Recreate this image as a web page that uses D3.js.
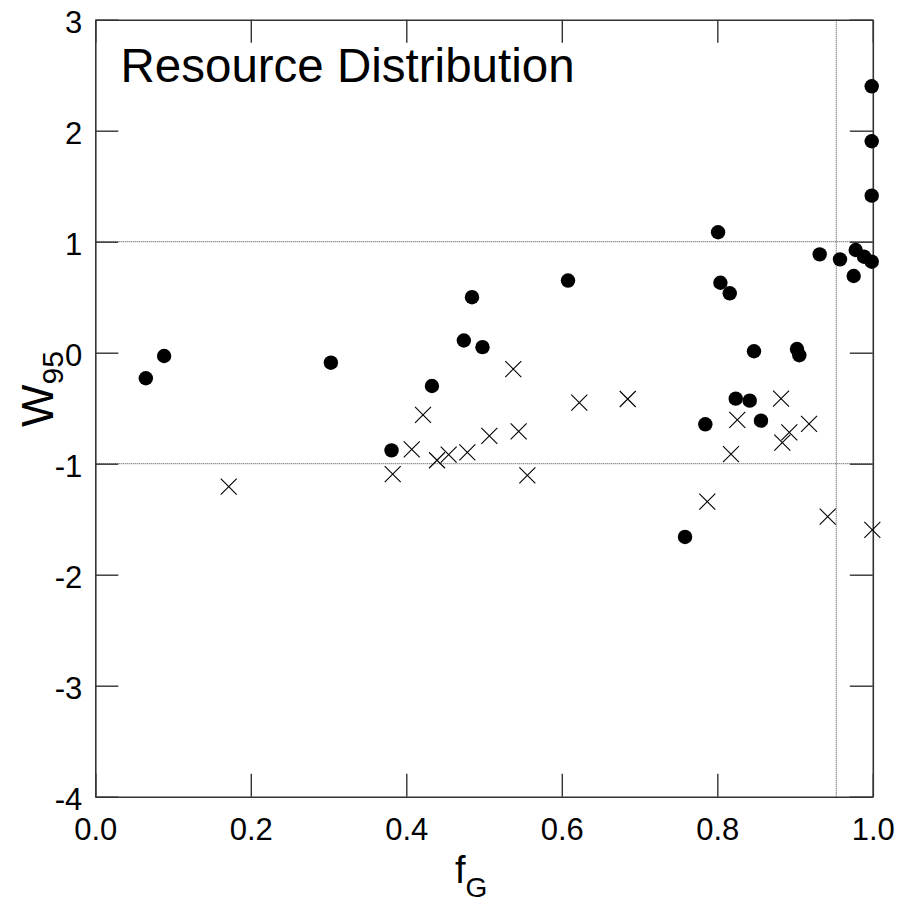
<!DOCTYPE html>
<html>
<head>
<meta charset="utf-8">
<script src="https://cdn.jsdelivr.net/npm/d3@7"></script>
<style>
  html, body { margin: 0; padding: 0; background: #fff; }
  svg { display: block; font-family: "Liberation Sans", Arial, Helvetica, sans-serif; }
</style>
</head>
<body>
<svg id="chart" width="912" height="902"></svg>
<script>
// ---- data ----
const circlesX = [0.065, 0.0885, 0.303, 0.381, 0.433, 0.474, 0.4845, 0.498, 0.608, 0.7585, 0.7846, 0.801, 0.804, 0.816, 0.8237, 0.8417, 0.8472, 0.8562, 0.9025, 0.9055, 0.9317, 0.9578, 0.9754, 0.978, 0.9887, 0.9986, 0.9986, 0.9986, 0.9986];
const circlesY = [-0.23, -0.03, -0.09, -0.88, -0.30, 0.11, 0.50, 0.05, 0.65, -1.66, -0.645, 1.085, 0.63, 0.535, -0.414, -0.432, 0.013, -0.612, 0.033, -0.023, 0.886, 0.841, 0.691, 0.925, 0.865, 2.40, 1.905, 1.415, 0.82];
const crossesX = [0.1716, 0.3825, 0.407, 0.4215, 0.4395, 0.4545, 0.4785, 0.5068, 0.5376, 0.5445, 0.5557, 0.6225, 0.6848, 0.7871, 0.8176, 0.8257, 0.882, 0.8836, 0.8926, 0.918, 0.942, 0.9994];
const crossesY = [-1.207, -1.093, -0.870, -0.561, -0.969, -0.919, -0.897, -0.750, -0.147, -0.708, -1.105, -0.450, -0.417, -1.342, -0.913, -0.606, -0.414, -0.811, -0.717, -0.642, -1.477, -1.597];
const xTicks = [0, 0.2, 0.4, 0.6, 0.8, 1.0];
const xTickLabels = ["0.0", "0.2", "0.4", "0.6", "0.8", "1.0"];
const yTicks = [-4, -3, -2, -1, 0, 1, 2, 3];
const yTickLabels = ["-4", "-3", "-2", "-1", "0", "1", "2", "3"];
const hRefLines = [1, -1];
const vRefLines = [0.953];
const titleText = "Resource Distribution";

// ---- layout ----
const pLeft = 95.3, pRight = 872.8, pTop = 19.7, pBottom = 796.7;
const svg = d3.select("#chart");
const x = d3.scaleLinear().domain([0, 1]).range([pLeft, pRight]);
const y = d3.scaleLinear().domain([-4, 3]).range([pBottom, pTop]);
const axisColor = "#333";
const tickLen = 23;

// reference dotted lines
svg.append("g").selectAll("line").data(hRefLines).join("line")
  .attr("x1", pLeft).attr("x2", pRight)
  .attr("y1", d => y(d)).attr("y2", d => y(d))
  .attr("stroke", "#444").attr("stroke-width", 1).attr("stroke-dasharray", "1,1");
svg.append("g").selectAll("line").data(vRefLines).join("line")
  .attr("x1", d => x(d)).attr("x2", d => x(d))
  .attr("y1", pTop).attr("y2", pBottom)
  .attr("stroke", "#444").attr("stroke-width", 1).attr("stroke-dasharray", "1,1");

// axes
const fmtX = (d) => xTickLabels[xTicks.indexOf(d)];
const fmtY = (d) => yTickLabels[yTicks.indexOf(d)];
const gB = svg.append("g").attr("transform", `translate(0,${pBottom})`)
  .call(d3.axisBottom(x).tickValues(xTicks).tickFormat(fmtX).tickSizeInner(-tickLen).tickSizeOuter(0).tickPadding(21));
const gT = svg.append("g").attr("transform", `translate(0,${pTop})`)
  .call(d3.axisTop(x).tickValues(xTicks).tickFormat("").tickSizeInner(-tickLen).tickSizeOuter(0));
const gL = svg.append("g").attr("transform", `translate(${pLeft},0)`)
  .call(d3.axisLeft(y).tickValues(yTicks).tickFormat(fmtY).tickSizeInner(-tickLen).tickSizeOuter(0).tickPadding(13));
const gR = svg.append("g").attr("transform", `translate(${pRight},0)`)
  .call(d3.axisRight(y).tickValues(yTicks).tickFormat("").tickSizeInner(-tickLen).tickSizeOuter(0));
[gB, gT, gL, gR].forEach(g => {
  g.select(".domain").attr("stroke", axisColor).attr("stroke-width", 1.6);
  g.selectAll(".tick line").attr("stroke", axisColor).attr("stroke-width", 1.4);
  g.selectAll("text").attr("font-size", 31).attr("fill", "#000")
    .attr("font-family", "'Liberation Sans', Arial, Helvetica, sans-serif");
});
gL.selectAll("text").attr("dy", "0.42em");

// crosses
const cs = 8;
const crossG = svg.append("g");
crossesX.forEach((cx, i) => {
  const px = x(cx), py = y(crossesY[i]);
  crossG.append("path")
    .attr("d", `M${px - cs},${py - cs}L${px + cs},${py + cs}M${px - cs},${py + cs}L${px + cs},${py - cs}`)
    .attr("stroke", "#000").attr("stroke-width", 1.1).attr("fill", "none");
});

// circles
svg.append("g").selectAll("circle").data(circlesX.map((d, i) => [d, circlesY[i]])).join("circle")
  .attr("cx", d => x(d[0])).attr("cy", d => y(d[1])).attr("r", 7.2).attr("fill", "#000");

// title
svg.append("text").attr("x", 120.5).attr("y", 81.5)
  .attr("font-size", 47.5).attr("fill", "#000").text(titleText);

// x label f_G
const xl = svg.append("text").attr("x", 455).attr("y", 883).attr("font-size", 38).attr("fill", "#000");
xl.append("tspan").text("f");
xl.append("tspan").attr("font-size", 28).attr("dy", 14).text("G");

// y label W_95
const yl = svg.append("text").attr("transform", "translate(53,427) rotate(-90)")
  .attr("font-size", 45).attr("fill", "#000");
yl.append("tspan").text("W");
yl.append("tspan").attr("font-size", 30).attr("dy", 10).text("95");
</script>
</body>
</html>
